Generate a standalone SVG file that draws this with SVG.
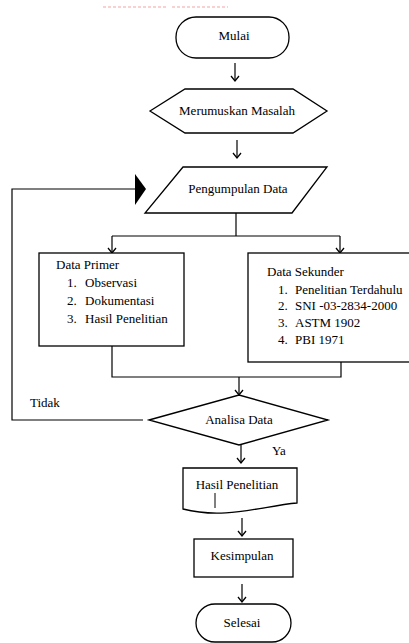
<svg xmlns="http://www.w3.org/2000/svg" width="409" height="643" viewBox="0 0 409 643">
<defs>
<style>
.s{fill:#fff;stroke:#000;stroke-width:1.3}
.c{fill:none;stroke:#000;stroke-width:1.2}
.t{font-family:"Liberation Serif","Times New Roman",serif;font-size:13px;fill:#000}
.m{text-anchor:middle}
</style>
<marker id="ah" viewBox="-6 -6 12 12" markerWidth="12" markerHeight="12" markerUnits="userSpaceOnUse" orient="auto">
<path d="M-5,-4 L0,0 L-5,4" fill="none" stroke="#000" stroke-width="1.3"/>
</marker>
</defs>
<rect width="409" height="643" fill="#fff"/>
<g id="guide">
<line x1="103" y1="7" x2="167" y2="7" stroke="#f5a3a3" stroke-width="1" stroke-dasharray="3 2"/>
<line x1="172" y1="7" x2="228" y2="7" stroke="#f5a3a3" stroke-width="1" stroke-dasharray="3 2"/>
</g>
<g id="connectors">
<line class="c" x1="235" y1="63" x2="235" y2="81" marker-end="url(#ah)"/>
<line class="c" x1="237" y1="140" x2="237" y2="158" marker-end="url(#ah)"/>
<polyline class="c" points="236,213 236,236"/>
<polyline class="c" points="112,236 340,236"/>
<line class="c" x1="112" y1="236" x2="112" y2="253" marker-end="url(#ah)"/>
<line class="c" x1="340" y1="236" x2="340" y2="253" marker-end="url(#ah)"/>
<polyline class="c" points="112,346 112,377 341,377 341,362"/>
<line class="c" x1="239" y1="377" x2="239" y2="395" marker-end="url(#ah)"/>
<polyline class="c" points="143,420 12,420 12,189 136,189"/>
<polygon points="135,174 146,189 135,205" fill="#000"/>
<line class="c" x1="241" y1="445" x2="241" y2="463" marker-end="url(#ah)"/>
<line class="c" x1="242" y1="518" x2="242" y2="536" marker-end="url(#ah)"/>
<line class="c" x1="242" y1="584" x2="242" y2="602" marker-end="url(#ah)"/>
<text class="t" x="30" y="407">Tidak</text>
<text class="t" x="272" y="455">Ya</text>
</g>
<g id="mulai">
<rect class="s" x="176" y="17" width="113" height="41" rx="20"/>
<text class="t m" x="234" y="40">Mulai</text>
</g>
<g id="merumuskan">
<polygon class="s" points="150,111 185,89 293,89 327,111 293,133 185,133"/>
<text class="t m" x="237" y="115">Merumuskan Masalah</text>
</g>
<g id="pengumpulan">
<polygon class="s" points="183,167 327,167 292,213 145,213"/>
<text class="t m" x="238" y="193">Pengumpulan Data</text>
</g>
<g id="primer">
<rect class="s" x="39" y="253" width="145" height="93"/>
<text class="t" x="56" y="269">Data Primer</text>
<text class="t" x="67" y="287">1.</text><text class="t" x="85" y="287">Observasi</text>
<text class="t" x="67" y="305">2.</text><text class="t" x="85" y="305">Dokumentasi</text>
<text class="t" x="67" y="323">3.</text><text class="t" x="85" y="323">Hasil Penelitian</text>
</g>
<g id="sekunder">
<rect class="s" x="248" y="253" width="170" height="109"/>
<text class="t" x="267" y="276">Data Sekunder</text>
<text class="t" x="278" y="294">1.</text><text class="t" x="295" y="294">Penelitian Terdahulu</text>
<text class="t" x="278" y="310">2.</text><text class="t" x="295" y="310">SNI -03-2834-2000</text>
<text class="t" x="278" y="327">3.</text><text class="t" x="295" y="327">ASTM 1902</text>
<text class="t" x="278" y="344">4.</text><text class="t" x="295" y="344">PBI 1971</text>
</g>
<g id="analisa">
<polygon class="s" points="149,420 239,395 328,420 239,445"/>
<text class="t m" x="239" y="424">Analisa Data</text>
</g>
<g id="hasil">
<path class="s" d="M183,468 H297 V503 C262,506 225,520 183,509 Z"/>
<text class="t m" x="237" y="489">Hasil Penelitian</text>
<line x1="215" y1="493" x2="215" y2="508" stroke="#000" stroke-width="1"/>
</g>
<g id="kesimpulan">
<rect class="s" x="194" y="539" width="99" height="38"/>
<text class="t m" x="242" y="560">Kesimpulan</text>
</g>
<g id="selesai">
<rect class="s" x="196" y="604" width="95" height="38" rx="19"/>
<text class="t m" x="242" y="627">Selesai</text>
</g>
</svg>
